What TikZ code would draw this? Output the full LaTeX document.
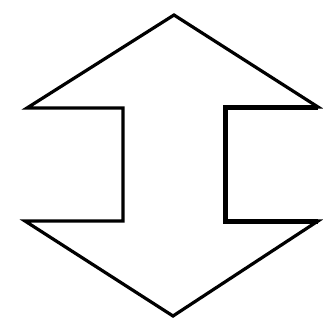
\documentclass[tikz,border=0pt]{standalone}
\usetikzlibrary{arrows.meta}

\begin{document}
\begin{tikzpicture}[
  x=1pt, y=-1pt,
  outline/.style={draw=black, line width=3.2pt, line join=miter},
  heavy/.style={draw=black, line width=5pt, line join=miter}
]
  \useasboundingbox (0,0) rectangle (323,325);
  \coordinate (top) at (174,15);
  \coordinate (ul) at (27,108);
  \coordinate (uls) at (123,108);
  \coordinate (lls) at (123,221);
  \coordinate (ll) at (25,221);
  \coordinate (bot) at (173,316);
  \coordinate (lr) at (318,221);
  \coordinate (lrs) at (226,221);
  \coordinate (urs) at (226,107);
  \coordinate (ur) at (318,107);
  \draw[outline] (top) -- (ul) -- (uls) -- (lls) -- (ll) -- (bot) -- (lr)
    -- (lrs) -- (urs) -- (ur) -- cycle;
  % right shaft is drawn heavier
  \draw[heavy] (lr) -- (lrs) -- (urs) -- (ur);
\end{tikzpicture}
\end{document}
